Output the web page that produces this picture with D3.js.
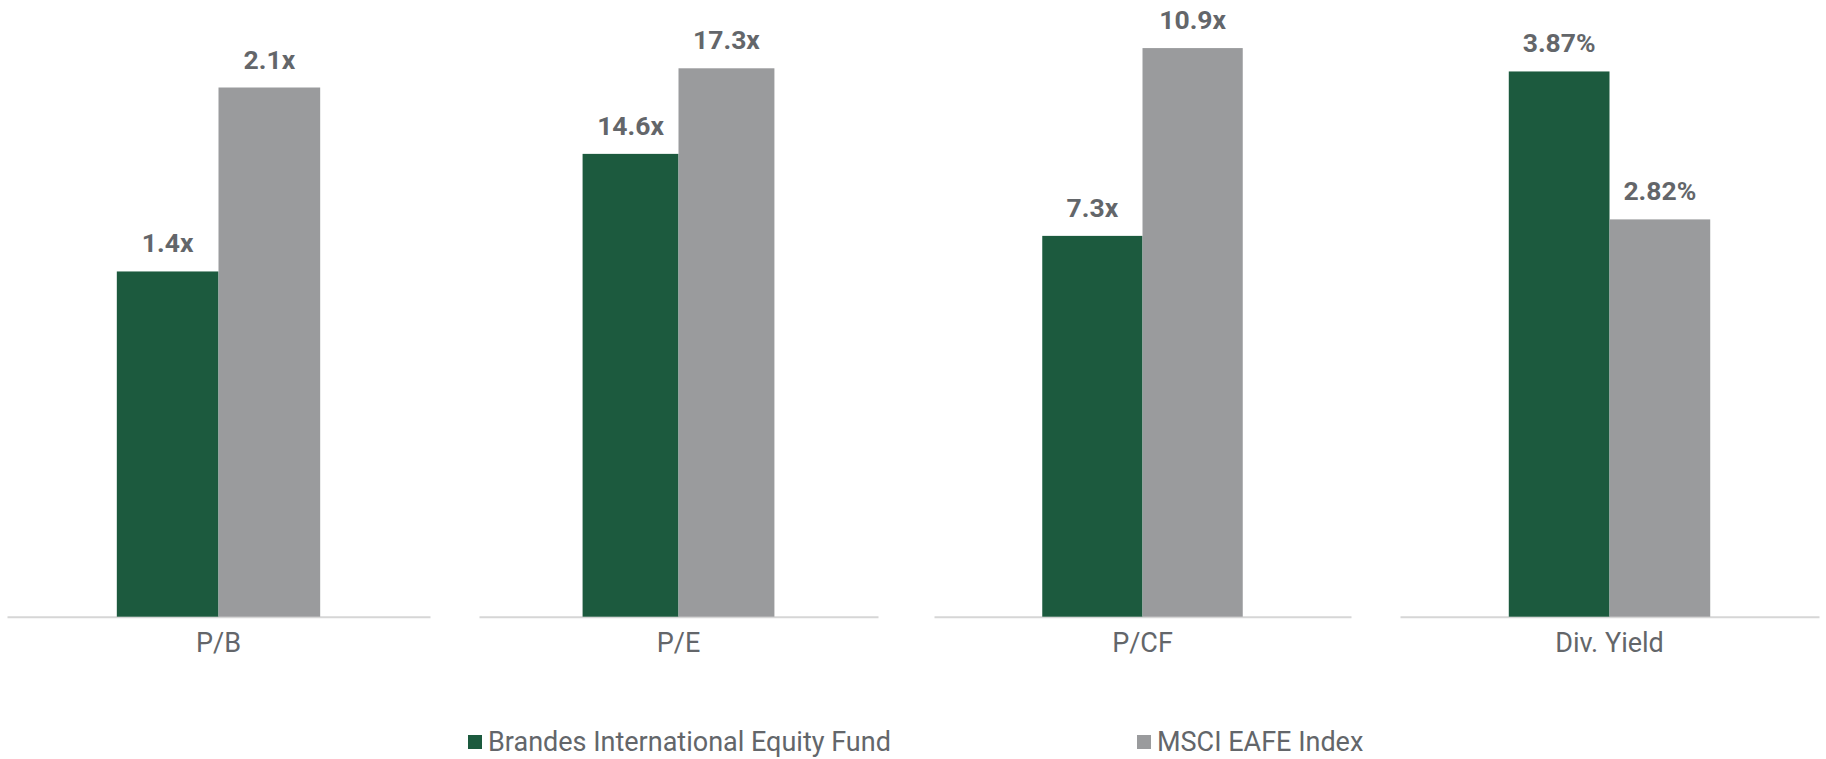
<!DOCTYPE html>
<html>
<head>
<meta charset="utf-8">
<script src="https://cdn.jsdelivr.net/npm/d3@7"></script>
<style>
  html, body { margin: 0; padding: 0; background: #ffffff; }
  svg { display: block; font-family: Roboto, "Noto Sans", Arial, sans-serif; }
</style>
</head>
<body>
<svg id="chart" width="1826" height="759"></svg>
<script>
// ---- data ----
const categories = ["P/B", "P/E", "P/CF", "Div. Yield"];
const seriesNames = ["Brandes International Equity Fund", "MSCI EAFE Index"];
const fundValues = [1.37, 14.6, 7.3, 3.87];
const indexValues = [2.1, 17.3, 10.9, 2.82];
const valueSuffix = ["x", "x", "x", "%"];
const valueDecimals = [1, 1, 1, 2];
const axisMax = [2.5, 20, 12, 4.5];

// ---- layout / style ----
const colors = ["#1c5a3e", "#9a9b9d"];
const textColor = "#63666a";
const panelX = [[7, 430], [479, 878], [934, 1351], [1400, 1819]];
const plotHeight = [630, 634, 626, 634];
const baseline = 616.7;

const svg = d3.select("#chart");
const color = d3.scaleOrdinal().domain(seriesNames).range(colors);

categories.forEach((cat, i) => {
  const g = svg.append("g");
  const x0 = d3.scaleBand().domain([cat]).range(panelX[i]).paddingOuter(0.54).paddingInner(0);
  const x1 = d3.scaleBand().domain(seriesNames).range([0, x0.bandwidth()]).padding(0);
  const y = d3.scaleLinear().domain([0, axisMax[i]]).range([baseline, baseline - plotHeight[i]]);
  const rows = [
    { s: seriesNames[0], v: fundValues[i] },
    { s: seriesNames[1], v: indexValues[i] }
  ];

  // axis
  const axis = g.append("g")
    .attr("transform", `translate(0,${baseline})`)
    .call(d3.axisBottom(x0).tickSize(0).tickPadding(16).tickSizeOuter(0));
  axis.select(".domain").attr("stroke", "#d6d6d6").attr("stroke-width", 2);
  axis.selectAll("text")
    .attr("fill", textColor)
    .style("font-size", "27px")
    .style("font-family", "Roboto, sans-serif");

  // bars
  g.selectAll("rect.bar").data(rows).join("rect")
    .attr("class", "bar")
    .attr("x", d => x0(cat) + x1(d.s))
    .attr("width", x1.bandwidth())
    .attr("y", d => y(d.v))
    .attr("height", d => y(0) - y(d.v))
    .attr("fill", d => color(d.s));

  // value labels
  g.selectAll("text.val").data(rows).join("text")
    .attr("class", "val")
    .attr("x", d => x0(cat) + x1(d.s) + x1.bandwidth() / 2)
    .attr("y", d => y(d.v) - 19)
    .attr("text-anchor", "middle")
    .attr("fill", textColor)
    .style("font-size", "26.5px")
    .style("font-weight", "bold")
    .text(d => d.v.toFixed(valueDecimals[i]) + valueSuffix[i]);
});

// legend
const legendItems = [
  { name: seriesNames[0], x: 468 },
  { name: seriesNames[1], x: 1137 }
];
const lg = svg.append("g");
const li = lg.selectAll("g").data(legendItems).join("g")
  .attr("transform", d => `translate(${d.x},742)`);
li.append("rect")
  .attr("x", 0).attr("y", -7).attr("width", 14).attr("height", 14)
  .attr("fill", d => color(d.name));
li.append("text")
  .attr("x", 20).attr("y", 0).attr("dy", "0.35em")
  .attr("fill", textColor)
  .style("font-size", "27px")
  .text(d => d.name);
</script>
</body>
</html>
